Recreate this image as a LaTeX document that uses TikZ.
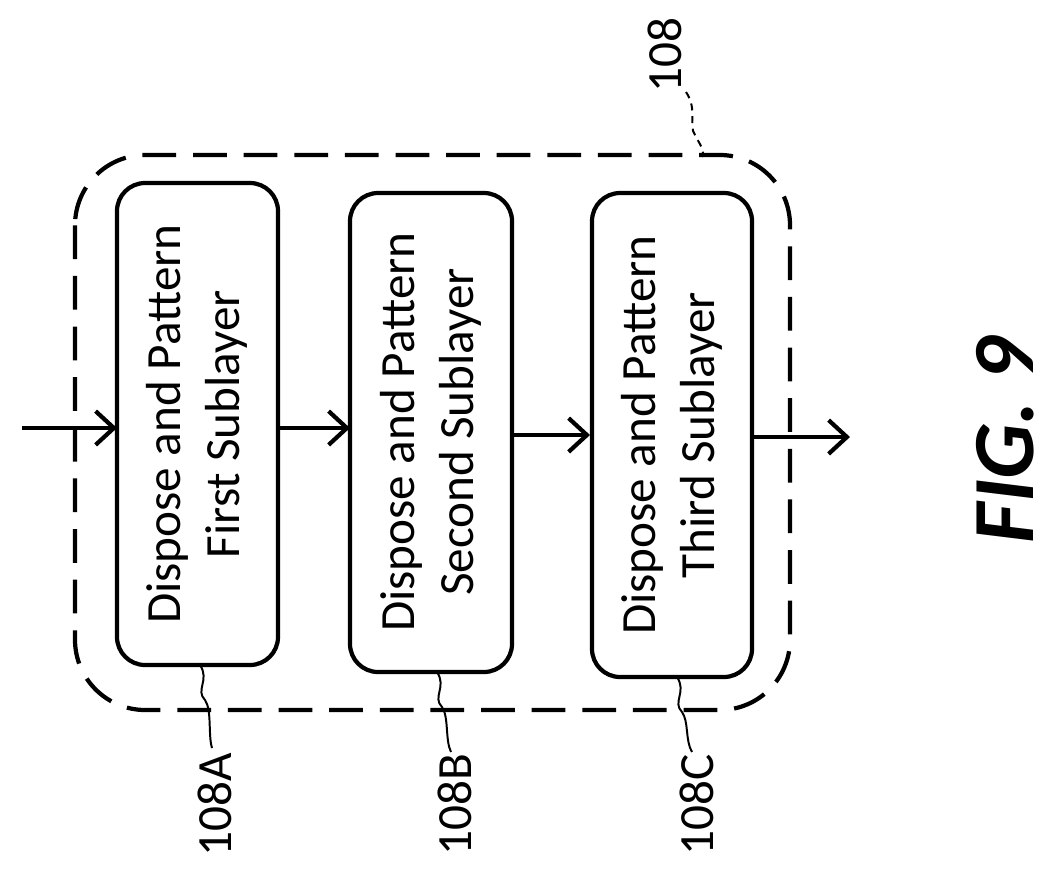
\documentclass[tikz,border=0pt]{standalone}
\usepackage{fontspec}
\setmainfont{Carlito}
\usetikzlibrary{arrows.meta}
\begin{document}
\begin{tikzpicture}[x=0.025cm,y=-0.025cm,
  box/.style={draw,line width=3pt,rounded corners=20pt},
  txt/.style={rotate=90,align=center,font=\fontsize{35}{42}\selectfont},
  lab/.style={rotate=90,font=\fontsize{35}{38}\selectfont},
  arr/.style={line width=3pt,-{Straight Barb[length=13pt,width=24pt,line width=3pt]}},
  lead/.style={line width=1.4pt}]
\useasboundingbox (0,0) rectangle (1056,871);
\draw[line width=3pt,dash pattern=on 24pt off 12pt,rounded corners=50pt] (75,155) rectangle (790,710);
\draw[box] (117,183) rectangle (278,665); \node[txt] (a) at (197,424) {Dispose and Pattern\\First Sublayer};
\draw[box] (350,193) rectangle (512,672); \node[txt] (b) at (431,432) {Dispose and Pattern\\Second Sublayer};
\draw[box] (592,193) rectangle (752,677); \node[txt] (c) at (672,435) {Dispose and Pattern\\Third Sublayer};
\coordinate (in) at (22,428); \coordinate (aw) at (117,428);
\coordinate (ae) at (278,428); \coordinate (bw) at (350,428);
\coordinate (be) at (512,435); \coordinate (cw) at (590,435);
\coordinate (ce) at (752,437); \coordinate (out) at (850,437);
\draw[arr] (in) -- (aw); \draw[arr] (ae) -- (bw); \draw[arr] (be) -- (cw); \draw[arr] (ce) -- (out);
\node[lab] (la) at (215,805) {108A};
\node[lab] (lb) at (455,805) {108B};
\node[lab] (lc) at (697,805) {108C};
\node[lab] (l) at (665,55) {108};
\draw[lead] (200,665) .. controls (210,680) and (195,690) .. (205,700) .. controls (212,710) and (208,735) .. (212,748);
\draw[lead] (437,672) .. controls (447,687) and (432,697) .. (442,707) .. controls (449,717) and (445,740) .. (451,752);
\draw[lead] (677,677) .. controls (687,692) and (672,702) .. (682,712) .. controls (689,722) and (685,740) .. (692,752);
\draw[lead,dash pattern=on 5pt off 4pt] (686,92) .. controls (698,110) and (688,125) .. (695,135) .. controls (700,145) and (705,150) .. (702,157);
\node[rotate=90,font=\fontsize{62}{70}\bfseries\itshape\selectfont] (fig) at (1005,440) {FIG. 9};
\end{tikzpicture}
\end{document}
